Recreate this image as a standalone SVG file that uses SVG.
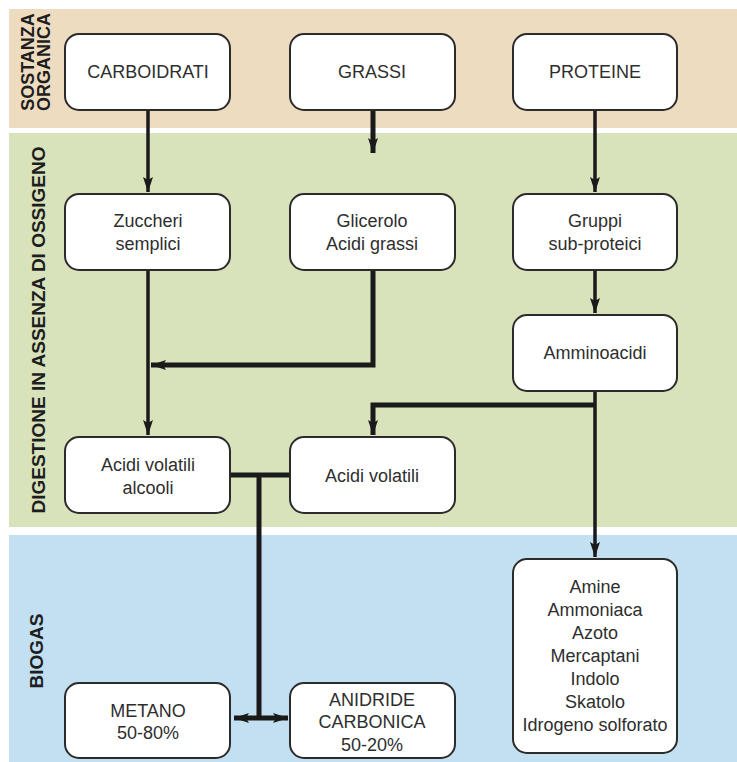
<svg xmlns="http://www.w3.org/2000/svg" width="737" height="762" viewBox="0 0 737 762">
<style>
.box{fill:#fff;stroke:#2b2b2b;stroke-width:2}
.t{font-family:"Liberation Sans",Arial,sans-serif;font-size:18px;fill:#2e2e2e;text-anchor:middle}
.lab{font-family:"Liberation Sans",Arial,sans-serif;font-weight:bold;fill:#1e1e1e;text-anchor:middle}
.c{fill:none;stroke:#1a1a1a;stroke-linejoin:miter}
.thin{stroke-width:3.5}
.thick{stroke-width:5}
</style>
<defs>
<marker id="ah" markerUnits="userSpaceOnUse" markerWidth="16" markerHeight="12" refX="15" refY="6" orient="auto-start-reverse">
<path d="M0,1 L15,6 L0,11 L3,6 z" fill="#1a1a1a"/>
</marker>
</defs>
<rect x="9" y="9" width="728" height="119" fill="#eedcc0"/>
<rect x="9" y="133" width="728" height="394" fill="#d8e2bb"/>
<rect x="9" y="535" width="728" height="227" fill="#c3dff2"/>
<g id="labels">
<text class="lab" font-size="18" transform="translate(34,62) rotate(-90)">SOSTANZA</text>
<text class="lab" font-size="18" transform="translate(50,62) rotate(-90)">ORGANICA</text>
<text class="lab" font-size="19" transform="translate(45,330) rotate(-90)">DIGESTIONE IN ASSENZA DI OSSIGENO</text>
<text class="lab" font-size="19" transform="translate(43,651) rotate(-90)">BIOGAS</text>
</g>
<g id="connectors">
<path class="c thin" d="M148,110 V192" marker-end="url(#ah)"/>
<path class="c thick" d="M373,110 V153" marker-end="url(#ah)"/>
<path class="c thin" d="M595,110 V192" marker-end="url(#ah)"/>
<path class="c thin" d="M148,270 V435" marker-end="url(#ah)"/>
<path class="c thick" d="M373,270 V365 H151" marker-end="url(#ah)"/>
<path class="c thin" d="M595,270 V313" marker-end="url(#ah)"/>
<path class="c thin" d="M595,391 V557" marker-end="url(#ah)"/>
<path class="c thick" d="M595,405 H373 V435" marker-end="url(#ah)"/>
<path class="c thick" d="M230,475 H290"/>
<path class="c thick" d="M259,475 V718"/>
<path class="c thick" d="M234,718 H288" marker-start="url(#ah)" marker-end="url(#ah)"/>
</g>
<g id="carboidrati"><rect class="box" x="65" y="34" width="165" height="76" rx="14"/><text class="t" x="148" y="78">CARBOIDRATI</text></g>
<g id="grassi"><rect class="box" x="290" y="34" width="165" height="76" rx="14"/><text class="t" x="372" y="78">GRASSI</text></g>
<g id="proteine"><rect class="box" x="513" y="34" width="164" height="76" rx="14"/><text class="t" x="595" y="78">PROTEINE</text></g>
<g id="zuccheri"><rect class="box" x="65" y="194" width="165" height="76" rx="14"/><text class="t" x="148" y="227">Zuccheri</text><text class="t" x="148" y="250">semplici</text></g>
<g id="glicerolo"><rect class="box" x="290" y="194" width="165" height="76" rx="14"/><text class="t" x="372" y="227">Glicerolo</text><text class="t" x="372" y="250">Acidi grassi</text></g>
<g id="gruppi"><rect class="box" x="513" y="194" width="164" height="76" rx="14"/><text class="t" x="595" y="227">Gruppi</text><text class="t" x="595" y="250">sub-proteici</text></g>
<g id="amminoacidi"><rect class="box" x="513" y="315" width="164" height="76" rx="14"/><text class="t" x="595" y="359">Amminoacidi</text></g>
<g id="acidi-alcooli"><rect class="box" x="65" y="437" width="165" height="76" rx="14"/><text class="t" x="148" y="471">Acidi volatili</text><text class="t" x="148" y="494">alcooli</text></g>
<g id="acidi-volatili"><rect class="box" x="290" y="437" width="165" height="76" rx="14"/><text class="t" x="372" y="482">Acidi volatili</text></g>
<g id="amine"><rect class="box" x="513" y="559" width="164" height="194" rx="14"/>
<text class="t" x="595" y="593">Amine</text>
<text class="t" x="595" y="616">Ammoniaca</text>
<text class="t" x="595" y="639">Azoto</text>
<text class="t" x="595" y="662">Mercaptani</text>
<text class="t" x="595" y="685">Indolo</text>
<text class="t" x="595" y="708">Skatolo</text>
<text class="t" x="595" y="731">Idrogeno solforato</text></g>
<g id="metano"><rect class="box" x="65" y="683" width="165" height="75" rx="14"/><text class="t" x="148" y="717">METANO</text><text class="t" x="148" y="739">50-80%</text></g>
<g id="anidride"><rect class="box" x="290" y="683" width="165" height="75" rx="14"/><text class="t" x="372" y="706">ANIDRIDE</text><text class="t" x="372" y="728">CARBONICA</text><text class="t" x="372" y="751">50-20%</text></g>
</svg>
